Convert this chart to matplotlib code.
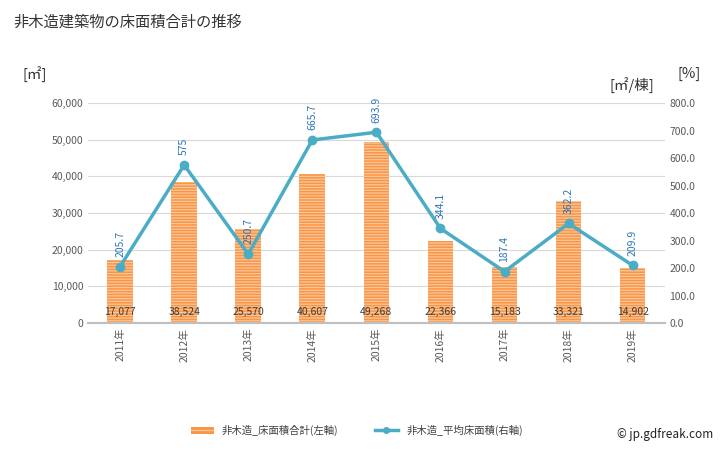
import matplotlib
matplotlib.use('Agg')
import matplotlib.pyplot as plt
import numpy as np
from matplotlib.patches import Patch
from matplotlib.lines import Line2D

plt.rcParams['font.family'] = ['Noto Sans CJK JP', 'DejaVu Sans']
plt.rcParams['hatch.linewidth'] = 0.9

years = ['2011年', '2012年', '2013年', '2014年', '2015年', '2016年', '2017年', '2018年', '2019年']
area_total = [17077, 38524, 25570, 40607, 49268, 22366, 15183, 33321, 14902]
avg_area = [205.7, 575.0, 250.7, 665.7, 693.9, 344.1, 187.4, 362.2, 209.9]
avg_labels = ['205.7', '575', '250.7', '665.7', '693.9', '344.1', '187.4', '362.2', '209.9']

fig = plt.figure(figsize=(7.28, 4.5), dpi=100)
ax = fig.add_axes([0.121, 0.282, 0.792, 0.489])
ax2 = ax.twinx()

x = np.arange(len(years))
ax.bar(x, area_total, width=0.4, color='#f79646', hatch='------', edgecolor='#fcc69b', linewidth=0, zorder=2)
for xi, v in zip(x, area_total):
    ax.text(xi, 3000, f'{v:,}', ha='center', va='center', fontsize=7.5, color='#404040', zorder=5)

ax.set_xlim(-0.5, len(years) - 0.5)
ax.set_ylim(0, 60000)
ax.set_yticks(np.arange(0, 60001, 10000))
ax.set_yticklabels([f'{v:,}' for v in range(0, 60001, 10000)])
ax.grid(axis='y', color='#d9d9d9', linewidth=0.8, zorder=0)
ax.set_axisbelow(True)
ax.set_xticks(x)
ax.set_xticklabels(years, rotation=90, fontsize=7.5, color='#595959')

ax2.plot(x, avg_area, color='#4bacc6', linewidth=2.5, marker='o', markersize=6, zorder=4)
for xi, v, s in zip(x, avg_area, avg_labels):
    ax2.annotate(s, (xi, v), xytext=(0, 7), textcoords='offset points', rotation=90,
                 ha='center', va='bottom', fontsize=7.5, color='#2e75b6')
ax2.set_ylim(0, 800)
ax2.set_yticks(np.arange(0, 801, 100))
ax2.set_yticklabels([f'{v:.1f}' for v in range(0, 801, 100)])

for a in (ax, ax2):
    for side in ('top', 'left', 'right'):
        a.spines[side].set_visible(False)
    a.spines['bottom'].set_color('#bfbfbf')
    a.spines['bottom'].set_linewidth(1.5)
    a.tick_params(length=0, labelsize=7.5, colors='#595959')
ax.set_zorder(ax2.get_zorder() - 1)
ax2.patch.set_visible(False)

fig.text(0.019, 0.951, '非木造建築物の床面積合計の推移', fontsize=11, color='#333333', va='center')
fig.text(0.048, 0.833, '[㎡]', fontsize=10.5, color='#333333', va='center', ha='center')
fig.text(0.868, 0.81, '[㎡/棟]', fontsize=10.5, color='#333333', va='center', ha='center')
fig.text(0.947, 0.836, '[%]', fontsize=10.5, color='#333333', va='center', ha='center')

handles = [Patch(facecolor='#f79646', hatch='---', edgecolor='#fcc69b', linewidth=0),
           Line2D([0], [0], color='#4bacc6', linewidth=2.5, marker='o', markersize=4)]
fig.legend(handles, ['非木造_床面積合計(左軸)', '非木造_平均床面積(右軸)'], loc='center',
           bbox_to_anchor=(0.49, 0.043), ncol=2, frameon=False, fontsize=7.5,
           handlelength=2.2, columnspacing=3.5, labelcolor='#404040')
fig.text(0.98, 0.035, '© jp.gdfreak.com', fontsize=8.5, color='#222222', ha='right', va='center')

fig.savefig('out.png', dpi=100)
